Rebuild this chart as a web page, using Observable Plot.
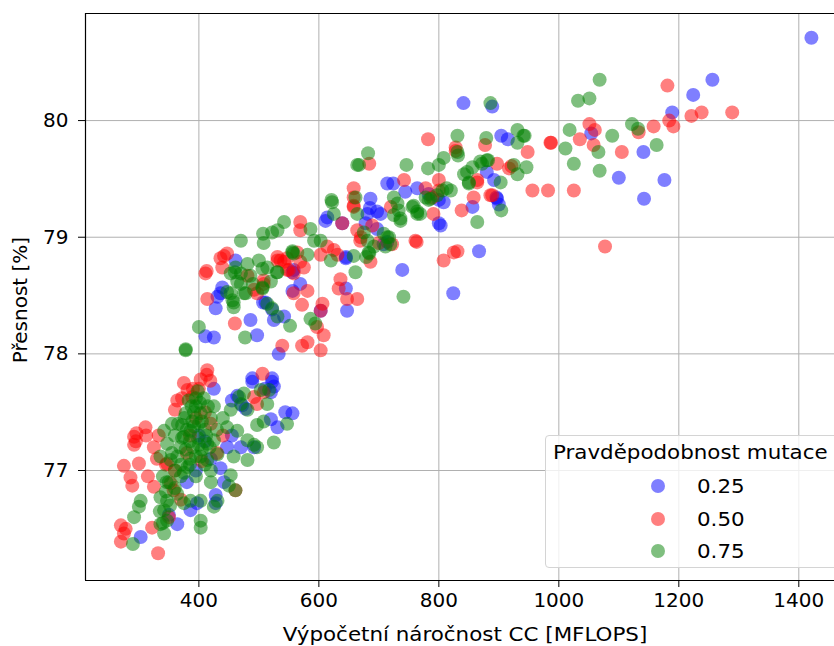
<!DOCTYPE html>
<html>
<head>
<meta charset="utf-8">
<script src="https://cdn.jsdelivr.net/npm/d3@7"></script>
<script src="https://cdn.jsdelivr.net/npm/@observablehq/plot@0.6"></script>
<style>
  html, body { margin: 0; padding: 0; background: #fff; overflow: hidden; }
  #wrap { position: relative; width: 834px; height: 646px; font-family: "DejaVu Sans", sans-serif; color: #000; overflow: hidden; }
  #chart svg { display: block; }
  .lbl { position: absolute; font-size: 20px; white-space: nowrap; line-height: 1; }
  #legendBox { position: absolute; left: 545px; top: 435px; width: 300px; height: 133px; border: 1px solid #d4d4d4; border-radius: 4px; background: rgba(255,255,255,0.8); box-sizing: border-box; }
  .ldot { position: absolute; width: 14px; height: 14px; border-radius: 50%; opacity: 0.5; }
</style>
</head>
<body>
<div id="wrap">
  <div id="chart"></div>
</div>
<script>
// ---- data (MFLOPS, accuracy %) ----
const seriesNames = ["0.25", "0.50", "0.75"];
const seriesColors = ["#0000ff", "#ff0000", "#008000"];
const xTicks = [400, 600, 800, 1000, 1200, 1400];
const yTicks = [77, 78, 79, 80];
const xDomain = [211, 1459.5];
const yDomain = [76.057, 80.918];
const xTitle = "Výpočetní náročnost CC [MFLOPS]";
const yTitle = "Přesnost [%]";
const legendTitle = "Pravděpodobnost mutace";

const mut025 = [
  [1421,80.71],[1256,80.35],[1224,80.22],[1189,80.07],[1054,79.89],[1141,79.73],[1100,79.51],[1176,79.49],[1142,79.33],
  [841,80.15],[889,80.12],[904,79.87],[915,79.84],[880,79.56],[892,79.49],[896,79.34],[856,79.26],[897,79.33],[900,79.28],[867,78.88],[824,78.52],
  [714,79.46],[724,79.46],[744,79.39],[764,79.42],[783,79.37],[800,79.32],[808,79.30],[803,79.10],[739,78.72],[686,79.33],[685,79.25],[681,79.20],
  [703,79.20],[697,79.07],[714,78.96],[645,78.83],[708,78.94],[611,79.14],[614,79.17],[639,79.12],[697,79.22],[678,79.12],[800,79.12],
  [461,78.80],[439,78.57],[431,78.49],[428,78.39],[436,78.52],[556,78.70],[558,78.72],[556,78.54],[569,78.60],[645,78.56],[647,78.37],
  [603,78.37],[533,78.00],[542,78.32],[525,78.29],[522,78.38],[507,78.44],[511,78.44],[486,78.29],[497,78.16],[411,78.15],[425,78.14],
  [645,78.82],[489,77.79],[522,77.79],
  [425,77.70],[472,77.56],[478,77.53],[464,77.64],[489,77.76],[522,77.76],[525,77.72],[520,77.67],[520,77.44],[531,77.37],[544,77.50],
  [556,77.49],[492,77.20],[447,77.20],[436,77.02],[442,76.90],[428,76.79],[428,76.72],[303,76.43],[364,76.54],[386,76.66],[397,76.72],
  [420,77.10],[410,77.25],[395,77.00],[380,76.90],[350,76.62],[400,77.30],[455,77.30],[470,77.20],[455,77.60],[510,77.70]
];

const mut050 = [
  [1181,80.30],[1238,80.07],[1221,80.04],[1289,80.07],[1184,80.00],[1191,79.95],[1158,79.95],[1133,79.90],[1105,79.73],[1051,79.97],
  [1060,79.92],[1058,79.79],[1035,79.84],[1025,79.40],[982,79.40],[956,79.40],[987,79.81],[948,79.73],[1077,78.92],
  [877,79.79],[828,79.74],[986,79.81],[897,79.63],[921,79.61],[864,79.47],[858,79.34],[886,79.36],[889,79.36],[838,79.23],[831,78.88],
  [782,79.84],[828,79.77],[684,79.63],[917,79.59],[864,79.49],[808,78.80],[825,78.87],
  [800,79.49],[800,79.40],[742,79.49],[778,79.42],[789,79.34],[791,79.20],[720,79.26],[763,78.96],[658,79.42],[658,79.26],[658,79.34],
  [689,79.10],[670,79.00],[700,78.95],[722,78.94],[686,78.79],[639,79.12],[664,79.06],[669,78.97],[761,78.97],[569,79.13],[569,79.06],[658,79.27],
  [411,78.69],[413,78.71],[442,78.84],[447,78.86],[439,78.74],[414,78.47],[460,78.26],[636,78.64],[633,78.56],[647,78.47],[664,78.47],
  [606,78.43],[603,78.37],[608,78.16],[603,78.03],[597,78.23],[581,78.10],[572,78.07],[539,78.07],[558,78.52],[572,78.42],[581,78.54],
  [558,78.69],[550,78.72],[531,78.80],[542,78.79],[569,78.79],[575,78.74],[564,78.87],[508,78.63],[497,78.52],[614,78.92],[625,78.89],
  [603,78.85],[631,78.85],[531,78.83],[547,78.82],[436,78.82],[481,78.67],[492,78.55],[508,78.60],[536,78.80],[547,78.72],
  [414,77.86],[413,77.82],[403,77.78],[381,77.69],[372,77.62],[389,77.63],[311,77.37],[292,77.29],[292,77.22],[333,77.30],[275,77.04],
  [300,77.06],[286,76.94],[289,76.87],[492,77.63],[497,77.57],[508,77.67],[506,77.83],[270,76.53],[275,76.46],[270,76.39],[332,76.29],
  [358,76.83],[353,76.89],[325,76.86],[322,76.51],[325,77.20],[461,76.83],[400,77.70],[395,77.45],[420,77.40],[360,77.00],[345,77.05],
  [430,77.15],[380,77.15],[370,76.75],[410,77.50],[350,76.60],[440,77.30],[375,77.75],[390,77.70],[330,77.10],[315,76.95],[364,77.60],[419,77.77],[347,77.06],
  [295,77.25],[296,77.32],[312,77.30],[278,76.50],[360,77.52],[385,77.30],[405,77.08]
];

const mut075 = [
  [1068,80.35],[1051,80.19],[1032,80.17],[1122,79.97],[1132,79.93],[1163,79.79],[1089,79.87],[1066,79.73],[1018,79.92],[1011,79.76],
  [1025,79.63],[1068,79.57],[943,79.87],[886,80.15],[831,79.87],[879,79.85],[832,79.70],[931,79.92],[941,79.87],[931,79.81],[925,79.62],
  [931,79.54],[842,79.54],[850,79.47],[872,79.63],[882,79.66],[903,79.47],[820,79.40],[904,79.23],[864,79.13],[847,79.56],[856,79.60],
  [869,79.65],[880,79.66],[850,79.46],[831,79.73],[946,79.60],
  [682,79.72],[667,79.62],[746,79.62],[782,79.59],[800,79.62],[808,79.68],[664,79.62],[778,79.34],[786,79.33],[806,79.40],[813,79.42],
  [756,79.26],[764,79.20],[769,79.20],[733,79.23],[736,79.16],[725,79.19],[661,78.70],[741,78.49],[661,79.34],[708,79.03],[717,79.00],
  [683,78.87],[679,78.83],[658,78.84],[725,79.34],[731,79.29],[736,79.14],[758,79.27],[764,79.22],[783,79.32],[797,79.36],[675,79.04],
  [681,78.97],[684,78.86],[692,78.92],[714,79.00],[719,78.94],[711,78.92],[622,79.30],[625,79.20],[621,79.32],[664,79.20],
  [470,78.97],[507,79.03],[508,78.95],[522,79.04],[531,79.06],[542,79.13],[586,79.07],[592,78.97],[603,78.97],[447,78.53],[456,78.46],
  [458,78.40],[586,78.30],[594,78.26],[552,78.24],[531,78.32],[522,78.39],[514,78.43],[477,78.14],[400,78.23],[378,78.04],[378,78.03],
  [556,78.87],[556,78.88],[506,78.73],[506,78.56],[506,78.57],[481,78.77],[486,78.67],[470,78.69],[464,78.62],[475,78.52],[500,78.80],
  [530,78.70],[460,78.70],[490,78.60],[520,78.62],[461,78.74],[453,78.69],[470,78.60],[478,78.52],[458,78.44],[453,78.52],[514,78.74],
  [531,78.70],[558,78.86],[581,78.85],[620,78.80],
  [383,77.60],[408,77.62],[378,77.49],[403,77.49],[372,77.39],[389,77.42],[342,77.34],[347,77.23],[336,77.12],[353,77.09],[369,77.20],
  [375,77.29],[386,77.34],[364,77.12],[381,77.03],[403,77.12],[414,77.09],[420,77.00],[431,77.14],[425,77.26],[414,77.23],[453,77.52],
  [470,77.57],[481,77.52],[447,77.37],[464,77.34],[481,77.26],[492,77.22],[497,77.20],[481,77.09],[458,77.12],[467,77.63],[475,77.66],
  [503,77.69],[517,77.69],[514,77.57],[547,77.40],[525,77.24],[497,77.39],[508,77.42],[453,76.96],[450,76.87],[303,76.74],[300,76.69],
  [292,76.60],[336,76.77],[347,76.74],[342,76.66],[336,76.54],[342,76.46],[347,76.57],[290,76.37],[364,76.80],[375,76.72],[386,76.74],
  [403,76.74],[403,76.57],[403,76.51],[425,76.69],[431,76.74],[461,76.83],[395,77.55],[400,77.40],[390,77.20],[410,77.35],[360,77.00],
  [370,76.95],[395,76.95],[350,76.90],[340,76.95],[420,77.45],[440,77.45],[392,77.50],[398,77.28],[385,77.10],[376,77.45],[405,77.18],
  [360,77.30],[355,77.40],[395,77.62],[410,77.05],[370,77.05],[346,76.90],[425,77.55],[398,77.68],
  [380,77.35],[385,77.25],[392,77.38],[400,77.22],[405,77.42],[412,77.30],[388,77.55],[378,77.18],[395,77.12],[418,77.20],[372,77.28],
  [365,77.40],[402,77.58],[415,77.55],[430,77.35],[385,77.05],[375,76.98],[360,76.85],[355,77.15],[420,76.90],[335,76.65],[345,76.82],
  [340,76.55],[352,76.70]
];

// ---- build table ----
const rows = [];
[mut025, mut050, mut075].forEach((arr, i) =>
  arr.forEach(([x, y]) => rows.push({x, y, s: seriesNames[i]}))
);

const chart = Plot.plot({
  width: 834,
  height: 646,
  marginLeft: 85,
  marginRight: 0,
  marginTop: 13,
  marginBottom: 66,
  style: {fontFamily: "DejaVu Sans, sans-serif", fontSize: "20px", color: "#000", background: "transparent", overflow: "visible"},
  x: {domain: xDomain, label: null},
  y: {domain: yDomain, label: null},
  color: {domain: seriesNames, range: seriesColors},
  marks: [
    Plot.gridX(xTicks, {stroke: "#b0b0b0", strokeOpacity: 1, strokeWidth: 1}),
    Plot.gridY(yTicks, {stroke: "#b0b0b0", strokeOpacity: 1, strokeWidth: 1}),
    Plot.dot(rows, {x: "x", y: "y", fill: "s", r: 7, fillOpacity: 0.5}),
    Plot.ruleX([xDomain[0]], {stroke: "#000", strokeWidth: 1.2}),
    Plot.ruleY(yDomain, {stroke: "#000", strokeWidth: 1.2}),
    Plot.axisX(xTicks, {tickSize: 7, tickPadding: 5, label: null, tickFormat: d3.format("d"), stroke: "#000", fill: "#000", fontSize: 20}),
    Plot.axisY(yTicks, {tickSize: 7, tickPadding: 10, label: null, tickFormat: d3.format("d"), stroke: "#000", fill: "#000", fontSize: 20})
  ]
});
document.getElementById("chart").appendChild(chart);

// ---- axis titles and legend (real text) ----
const wrap = document.getElementById("wrap");
function addLabel(text, css) {
  const d = document.createElement("div");
  d.className = "lbl";
  d.textContent = text;
  Object.assign(d.style, css);
  wrap.appendChild(d);
  return d;
}
addLabel(xTitle, {left: "0px", width: "930px", textAlign: "center", top: "624px", transform: "scaleX(1.07)", transformOrigin: "465px 0"});
addLabel(yTitle, {left: "20px", top: "300px", transform: "translate(-50%,-50%) rotate(-90deg)"});

const box = document.createElement("div");
box.id = "legendBox";
wrap.appendChild(box);
addLabel(legendTitle, {left: "553px", top: "442px", transform: "scaleX(1.07)", transformOrigin: "0 0"});
seriesNames.forEach((name, i) => {
  const cy = 486 + i * 32.5;
  const dot = document.createElement("div");
  dot.className = "ldot";
  dot.style.left = (658 - 7) + "px";
  dot.style.top = (cy - 7) + "px";
  dot.style.background = seriesColors[i];
  wrap.appendChild(dot);
  addLabel(name, {left: "697px", top: (cy - 10) + "px", transform: "scaleX(1.07)", transformOrigin: "0 0"});
});
</script>
</body>
</html>
